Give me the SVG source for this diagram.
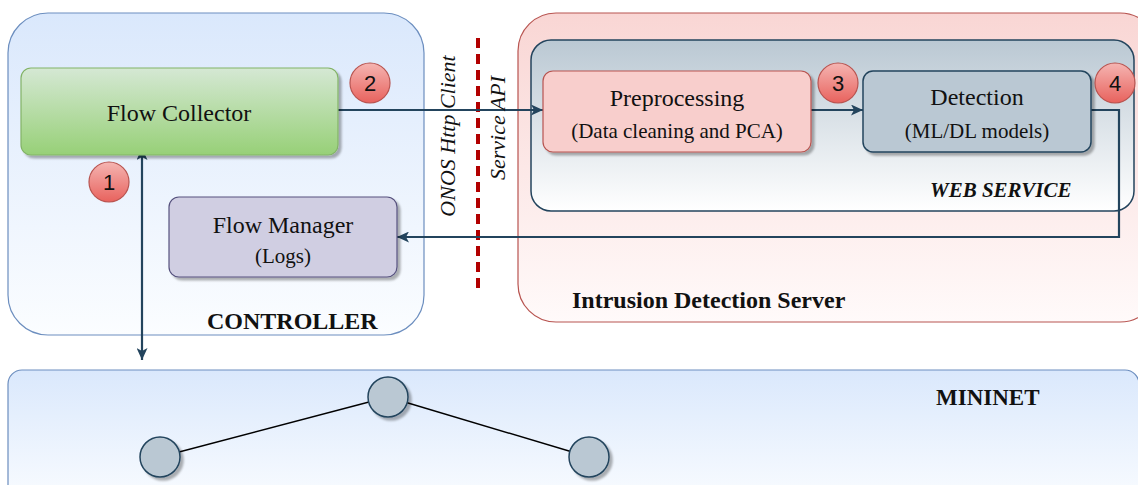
<svg xmlns="http://www.w3.org/2000/svg" width="1138" height="485" viewBox="0 0 1138 485">
<defs>
<linearGradient id="gBlue" x1="0" y1="0" x2="0" y2="1"><stop offset="0" stop-color="#dae8fc"/><stop offset="1" stop-color="#fbfdff"/></linearGradient>
<linearGradient id="gRed" x1="0" y1="0" x2="0" y2="1"><stop offset="0" stop-color="#f9d6d4"/><stop offset="1" stop-color="#fffafa"/></linearGradient>
<linearGradient id="gSlate" x1="0" y1="0" x2="0" y2="1"><stop offset="0" stop-color="#bac8d3"/><stop offset="1" stop-color="#ffffff"/></linearGradient>
<linearGradient id="gGreen" x1="0" y1="0" x2="0" y2="1"><stop offset="0" stop-color="#d5e8d4"/><stop offset="1" stop-color="#97d077"/></linearGradient>
<linearGradient id="gBadge" x1="0" y1="0" x2="0" y2="1"><stop offset="0" stop-color="#f5b5b2"/><stop offset="1" stop-color="#e8625d"/></linearGradient>
<filter id="sh" x="-10%" y="-10%" width="130%" height="140%"><feDropShadow dx="3" dy="3" stdDeviation="1" flood-color="#000" flood-opacity="0.3"/></filter>
<marker id="arr" viewBox="0 0 12 11" refX="12" refY="5.5" markerWidth="12" markerHeight="11" markerUnits="userSpaceOnUse" orient="auto-start-reverse"><path d="M0,0 L12,5.5 L0,11 L3,5.5 z" fill="#23445d"/></marker>
<style>
.conn{fill:none;stroke:#23445d;stroke-width:2.2}
.badge circle{fill:url(#gBadge);stroke:#b85450;stroke-width:1.2}
.mn{fill:#bac8d3;stroke:#23445d;stroke-width:1.5}
</style>
</defs>

<g id="controller">
<rect x="8" y="13" width="416" height="322" rx="40" fill="url(#gBlue)" stroke="#6c8ebf" stroke-width="1.2"/>
<text x="207" y="329" font-family="Liberation Serif, serif" font-weight="bold" font-size="24" fill="#111">CONTROLLER</text>
</g>

<g id="ids-server">
<rect x="518" y="13" width="640" height="309" rx="38" fill="url(#gRed)" stroke="#b85450" stroke-width="1.2"/>
<text x="572" y="308" font-family="Liberation Serif, serif" font-weight="bold" font-size="24" fill="#111">Intrusion Detection Server</text>
</g>

<g id="web-service">
<rect x="531" y="40" width="603" height="171" rx="20" fill="url(#gSlate)" stroke="#23445d" stroke-width="1.5"/>
<text x="930" y="197" font-family="Liberation Serif, serif" font-weight="bold" font-style="italic" font-size="21" fill="#111">WEB SERVICE</text>
</g>

<g id="mininet">
<rect x="8" y="370" width="1131" height="140" rx="14" fill="url(#gBlue)" stroke="#6c8ebf" stroke-width="1.2"/>
<text x="936" y="405" font-family="Liberation Serif, serif" font-weight="bold" font-size="23" fill="#111">MININET</text>
<line x1="388" y1="397" x2="160" y2="457" stroke="#000" stroke-width="1.5"/>
<line x1="388" y1="397" x2="589" y2="457" stroke="#000" stroke-width="1.5"/>
</g>
<g id="mn-node-top"><ellipse class="mn" cx="388" cy="397" rx="20" ry="20" filter="url(#sh)"/></g>
<g id="mn-node-left"><ellipse class="mn" cx="160" cy="457" rx="20" ry="20" filter="url(#sh)"/></g>
<g id="mn-node-right"><ellipse class="mn" cx="589" cy="457" rx="20" ry="20" filter="url(#sh)"/></g>

<g id="boundary">
<line x1="478" y1="38" x2="478" y2="290" stroke="#b20000" stroke-width="4" stroke-dasharray="10 6"/>
</g>

<g id="connectors">
<line class="conn" x1="338" y1="110" x2="543" y2="110" marker-end="url(#arr)"/>
<line class="conn" x1="811" y1="110" x2="863" y2="110" marker-end="url(#arr)"/>
<polyline class="conn" points="1091,110 1119,110 1119,237 397,237" marker-end="url(#arr)"/>
<line class="conn" x1="142" y1="360" x2="142" y2="148" marker-start="url(#arr)" marker-end="url(#arr)"/>
</g>

<g id="api-labels" font-family="Liberation Serif, serif" font-style="italic" font-size="22" fill="#111" text-anchor="middle">
<text transform="translate(455,136) rotate(-90)">ONOS Http Client</text>
<text transform="translate(505,128) rotate(-90)">Service API</text>
</g>

<g id="flow-collector" font-family="Liberation Serif, serif" fill="#111" text-anchor="middle">
<rect x="21" y="68" width="317" height="87" rx="10" fill="url(#gGreen)" stroke="#82b366" stroke-width="1.2" filter="url(#sh)"/>
<text x="179" y="121" font-size="24">Flow Collector</text>
</g>

<g id="flow-manager" font-family="Liberation Serif, serif" fill="#111" text-anchor="middle">
<rect x="169" y="197" width="228" height="80" rx="10" fill="#d0cee2" stroke="#56517e" stroke-width="1.2" filter="url(#sh)"/>
<text x="283" y="233" font-size="24">Flow Manager</text>
<text x="283" y="263" font-size="21">(Logs)</text>
</g>

<g id="preprocessing" font-family="Liberation Serif, serif" fill="#111" text-anchor="middle">
<rect x="543" y="71" width="268" height="81" rx="10" fill="#f8cecc" stroke="#b85450" stroke-width="1.2" filter="url(#sh)"/>
<text x="677" y="106" font-size="24">Preprocessing</text>
<text x="677" y="138" font-size="21">(Data cleaning and PCA)</text>
</g>

<g id="detection" font-family="Liberation Serif, serif" fill="#111" text-anchor="middle">
<rect x="863" y="71" width="228" height="81" rx="10" fill="#bac8d3" stroke="#23445d" stroke-width="1.5" filter="url(#sh)"/>
<text x="977" y="105" font-size="24">Detection</text>
<text x="977" y="138" font-size="21">(ML/DL models)</text>
</g>

<g id="badges" font-family="Liberation Sans, sans-serif" font-size="22" fill="#111" text-anchor="middle">
<g id="badge-1" class="badge"><circle cx="109" cy="182" r="20"/><text x="109" y="190">1</text></g>
<g id="badge-2" class="badge"><circle cx="370" cy="83" r="20"/><text x="370" y="91">2</text></g>
<g id="badge-3" class="badge"><circle cx="838" cy="83" r="20"/><text x="838" y="91">3</text></g>
<g id="badge-4" class="badge"><circle cx="1115" cy="83" r="20"/><text x="1115" y="91">4</text></g>
</g>
</svg>
